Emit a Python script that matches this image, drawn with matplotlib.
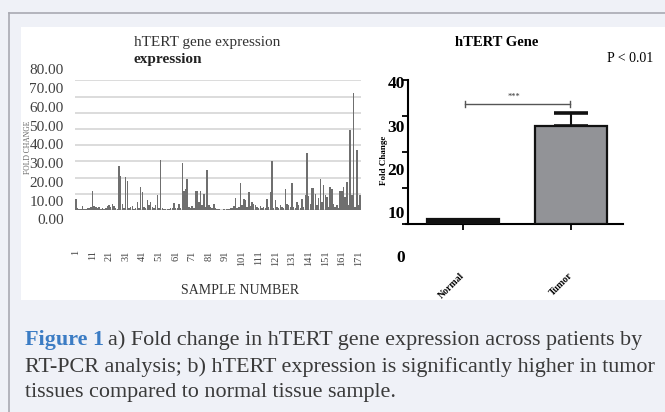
import matplotlib
matplotlib.use("Agg")
import matplotlib.pyplot as plt
from matplotlib.patches import Rectangle
from matplotlib.lines import Line2D
import numpy as np

# ---------------- data ----------------
fold_change = [
    6.8, 1.0, 0.5, 0.8, 2.2, 0.6, 0.4, 1.2, 1.5, 2.0,
    11.7, 2.5, 1.8, 1.0, 2.0, 0.5, 1.5, 0.6, 1.0, 2.5,
    3.0, 2.0, 3.5, 2.5, 1.2, 0.8, 27.0, 21.0, 3.5, 1.5,
    20.3, 18.0, 1.0, 2.0, 2.5, 0.5, 1.0, 5.0, 1.5, 14.4,
    11.3, 2.0, 1.5, 6.0, 3.0, 5.0, 2.0, 1.5, 3.0, 9.0,
    1.0, 30.8, 1.0, 0.8, 0.5, 0.6, 0.8, 1.0, 1.2, 4.5,
    1.5, 1.0, 3.5, 1.0, 29.0, 12.0, 12.7, 19.0, 2.0, 1.0,
    2.5, 1.5, 11.7, 11.7, 5.0, 11.7, 3.0, 10.0, 2.0, 24.6,
    3.0, 2.0, 1.5, 3.7, 1.0, 0.6, 0.4, 0.3, 0.3, 0.4,
    0.3, 0.5, 0.8, 1.0, 1.5, 2.5, 7.2, 1.0, 2.0, 16.8,
    3.0, 7.0, 6.0, 2.0, 11.0, 2.5, 5.0, 3.5, 3.0, 2.0,
    1.0, 2.5, 1.5, 2.0, 1.0, 6.5, 2.0, 11.0, 30.2, 1.5,
    6.0, 2.0, 1.5, 3.0, 2.0, 1.0, 13.0, 4.0, 3.0, 2.0,
    16.4, 2.0, 1.5, 5.0, 3.0, 1.0, 7.0, 2.0, 9.0, 35.0,
    8.6, 4.0, 13.5, 13.5, 10.0, 3.0, 7.7, 19.0, 5.0, 15.4,
    9.0, 8.0, 2.0, 14.0, 12.7, 4.0, 2.0, 3.0, 1.5, 11.7,
    11.7, 14.4, 8.0, 17.4, 3.0, 49.2, 9.2, 72.4, 2.0, 37.0,
    3.0, 9.2,
]
sample_numbers = list(range(1, len(fold_change) + 1))
sample_tick_labels = [str(i) for i in range(1, 172, 10)]
left_y_ticks = [0, 10, 20, 30, 40, 50, 60, 70, 80]

groups = ["Normal", "Tumor"]
group_means = [1.3, 27.2]
group_err = [0.0, 3.6]
right_y_ticks = [0, 10, 20, 30, 40]

W, H = 665, 412
SERIF = ["Liberation Serif", "DejaVu Serif"]
plt.rcParams["font.family"] = SERIF

fig = plt.figure(figsize=(W / 100, H / 100), dpi=100)
fig.patch.set_facecolor("#eff1f7")


def fx(x):
    return x / W


def fy(y):
    return 1 - y / H


# outer frame lines and white panel
fig.add_artist(Line2D([fx(9), fx(9)], [fy(13), fy(412)], color="#a9aab2", lw=1.2))
fig.add_artist(Line2D([fx(9), fx(665)], [fy(13), fy(13)], color="#a9aab2", lw=1.2))
fig.add_artist(Rectangle((fx(21), fy(300)), fx(665) - fx(21), fy(27) - fy(300),
                         transform=fig.transFigure, facecolor="white",
                         edgecolor="none", zorder=0))

# ---------------- left chart ----------------
ax1 = fig.add_axes([fx(75), fy(210), fx(361) - fx(75), fy(80.3) - fy(210)])
ax1.set_facecolor("none")
ax1.bar(sample_numbers, fold_change, width=0.9, color="#6f6f6f", zorder=3)
ax1.set_ylim(0, 80)
ax1.set_xlim(0.5, len(fold_change) + 0.5)
ax1.set_yticks(left_y_ticks)
ax1.yaxis.grid(True, color="#d9d9d9", lw=1.3, zorder=0)
ax1.tick_params(axis="y", length=0, labelleft=False)
for s in ax1.spines.values():
    s.set_visible(False)
ax1.set_xticks(list(range(1, 172, 10)))
ax1.set_xticklabels(sample_tick_labels, rotation=90, fontsize=7.5, color="#404040")
ax1.tick_params(axis="x", length=0, pad=29)

# y labels (offset column, as in the reference image)
axl = fig.add_axes([fx(63.5), fy(219.3), 0.0005, fy(69.3) - fy(219.3)])
axl.set_ylim(0, 80)
axl.set_yticks(left_y_ticks)
axl.set_yticklabels([f"{v:.2f}" for v in left_y_ticks], fontsize=11, color="#404040")
axl.tick_params(axis="y", length=0, pad=0)
axl.set_xticks([])
axl.patch.set_visible(False)
for s in axl.spines.values():
    s.set_visible(False)

fig.text(fx(27.5), fy(147), "FOLD CHANGE", rotation=90, fontsize=5.5,
         color="#606060", ha="center", va="center")
fig.text(fx(133.6), fy(42.7), "hTERT gene expression", fontsize=11,
         color="#333333", ha="left", va="center")
fig.text(fx(133.6), fy(60), "expression", fontsize=11, fontweight="bold",
         color="#222222", ha="left", va="center")
fig.text(fx(240.5), fy(291), "SAMPLE NUMBER", fontsize=10,
         color="#333333", ha="center", va="center")

# ---------------- right chart ----------------
ax2 = fig.add_axes([fx(408), fy(224), fx(624) - fx(408), fy(80) - fy(224)])
ax2.set_facecolor("none")
xpos = np.arange(len(groups))
ax2.bar(xpos, group_means, width=0.675,
        color=["#111111", "#929397"], edgecolor="#111111", linewidth=1.6, zorder=3)
ax2.errorbar(xpos[1:], group_means[1:], yerr=[[0], group_err[1:]], fmt="none",
             ecolor="#111111", elinewidth=1.5, capsize=12, capthick=2.6, zorder=2)
ax2.set_xlim(-0.509, 1.491)
ax2.set_ylim(0, 40)
ax2.set_yticks(right_y_ticks)
ax2.set_yticklabels([])
ax2.tick_params(axis="y", direction="out", length=4, width=1.3)
ax2.spines["top"].set_visible(False)
ax2.spines["right"].set_visible(False)
ax2.spines["left"].set_linewidth(1.5)
ax2.spines["bottom"].set_linewidth(1.5)
ax2.spines["bottom"].set_bounds(-0.53, 1.48)
ax2.set_xticks(xpos)
ax2.set_xticklabels(groups, rotation=45, ha="right", va="center",
                    rotation_mode="anchor", fontsize=7, fontweight="bold")
ax2.tick_params(axis="x", direction="out", length=4, width=1.3, pad=32)

# significance bracket
ax2.plot([0.02, 0.99], [33.3, 33.3], color="#555555", lw=1.0, clip_on=False)
ax2.plot([0.02, 0.02], [32.5, 34.1], color="#555555", lw=1.0, clip_on=False)
ax2.plot([0.99, 0.99], [32.5, 34.1], color="#555555", lw=1.0, clip_on=False)
ax2.text(0.475, 34.2, "***", fontsize=6, ha="center", va="bottom", color="#333333")

axr = fig.add_axes([fx(405), fy(256), 0.0005, fy(82) - fy(256)])
axr.set_ylim(0, 40)
axr.set_yticks(right_y_ticks)
axr.set_yticklabels([str(v) for v in right_y_ticks], fontsize=12.5, fontweight="bold")
axr.tick_params(axis="y", length=0, pad=0)
axr.set_xticks([])
axr.patch.set_visible(False)
for s in axr.spines.values():
    s.set_visible(False)

fig.text(fx(384), fy(160), "Fold Change", rotation=90, fontsize=6.5,
         fontweight="bold", ha="center", va="center")
fig.text(fx(497), fy(42.7), "hTERT Gene", fontsize=10.5, fontweight="bold",
         ha="center", va="center")
fig.text(fx(653), fy(58.3), "P < 0.01", fontsize=10, ha="right", va="center")

# ---------------- caption ----------------
renderer = fig.canvas.get_renderer()
cap_size = 15.9
t1 = fig.text(fx(24.6), fy(340), "Figure 1", fontsize=cap_size, fontweight="bold",
              color="#3b7cc4", ha="left", va="center")
bb = t1.get_window_extent(renderer)
fig.text(bb.x1 / W + fx(4), fy(340),
         "a) Fold change in hTERT gene expression across patients by",
         fontsize=cap_size, color="#3a3a3a", ha="left", va="center")
fig.text(fx(24.6), fy(367),
         "RT-PCR analysis; b) hTERT expression is significantly higher in tumor",
         fontsize=cap_size, color="#3a3a3a", ha="left", va="center")
fig.text(fx(24.6), fy(393), "tissues compared to normal tissue sample.",
         fontsize=cap_size, color="#3a3a3a", ha="left", va="center")

fig.savefig("out.png", dpi=100, facecolor=fig.get_facecolor())
